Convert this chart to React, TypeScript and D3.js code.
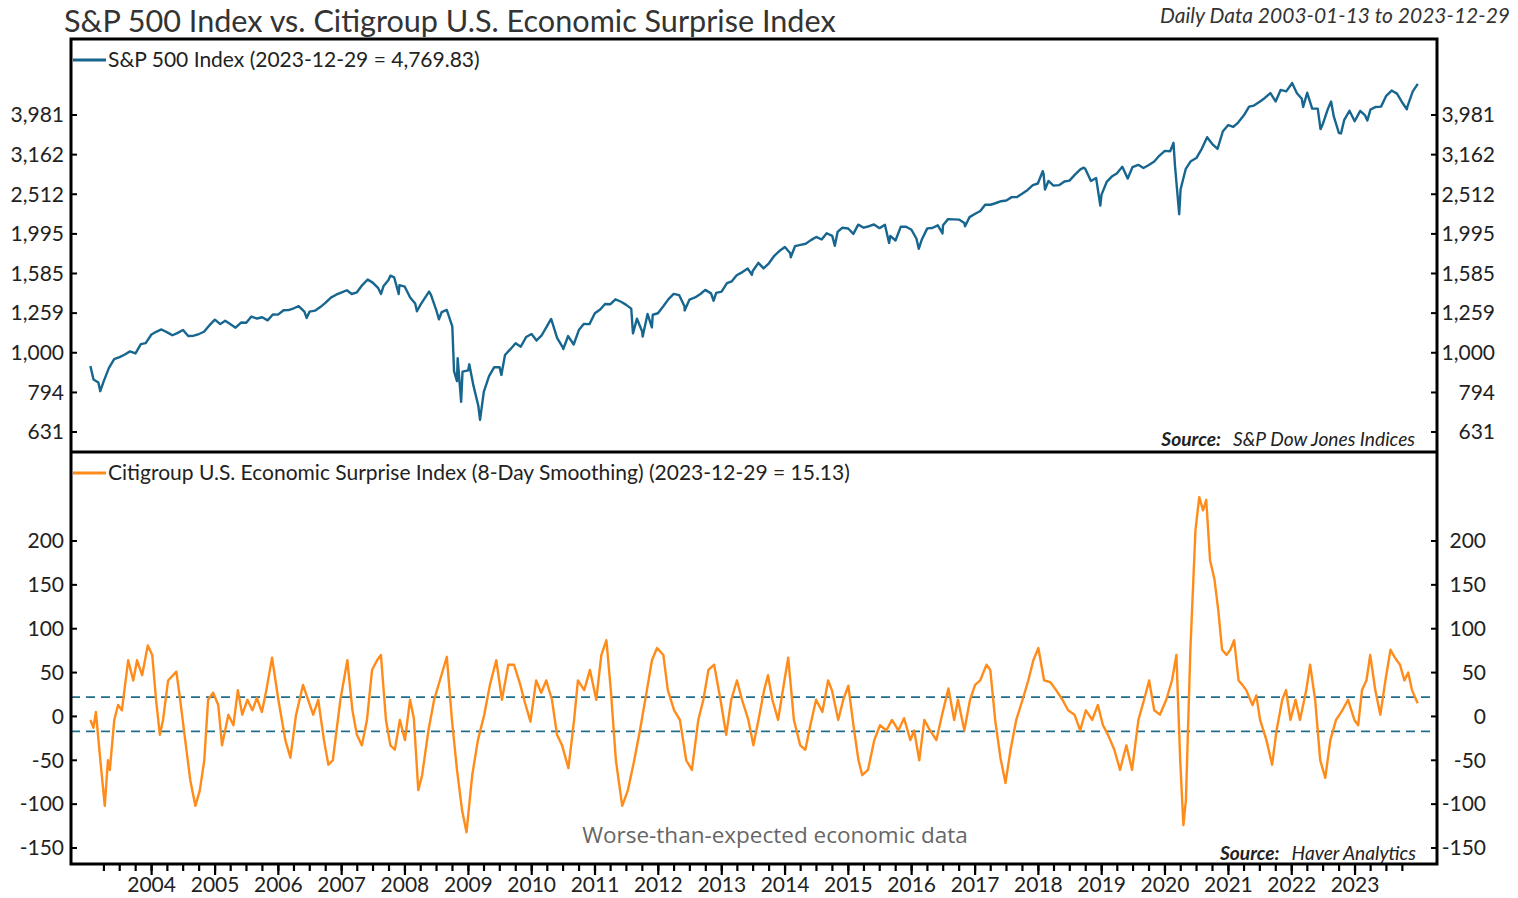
import * as d3 from 'd3';

const TITLE = 'S&P 500 Index vs. Citigroup U.S. Economic Surprise Index';
const SUBTITLE = 'Daily Data 2003-01-13 to 2023-12-29';
const SPX_LABEL = 'S&P 500 Index (2023-12-29 = 4,769.83)';
const CESI_LABEL = 'Citigroup U.S. Economic Surprise Index (8-Day Smoothing) (2023-12-29 = 15.13)';

const SPX_TICKS = [631, 794, 1000, 1259, 1585, 1995, 2512, 3162, 3981];
const CESI_TICKS = [-150, -100, -50, 0, 50, 100, 150, 200];
const CESI_BANDS = [22, -17];

// S&P 500, month-end closes plus a few notable daily extremes
const SPX: [string, number][] = [
  ['2003-01-13', 926], ['2003-01-31', 856], ['2003-02-28', 841], ['2003-03-11', 800], ['2003-03-31', 848],
  ['2003-04-30', 916], ['2003-05-30', 964], ['2003-06-30', 975], ['2003-07-31', 990], ['2003-08-29', 1008],
  ['2003-09-30', 996], ['2003-10-31', 1051], ['2003-11-28', 1058], ['2003-12-31', 1112],
  ['2004-01-30', 1131], ['2004-02-27', 1145], ['2004-03-31', 1126], ['2004-04-30', 1107], ['2004-05-28', 1121],
  ['2004-06-30', 1141], ['2004-07-30', 1102], ['2004-08-31', 1104], ['2004-09-30', 1115], ['2004-10-29', 1130],
  ['2004-11-30', 1174], ['2004-12-31', 1212],
  ['2005-01-31', 1181], ['2005-02-28', 1204], ['2005-03-31', 1180], ['2005-04-29', 1157], ['2005-05-31', 1192],
  ['2005-06-30', 1191], ['2005-07-29', 1234], ['2005-08-31', 1220], ['2005-09-30', 1229], ['2005-10-31', 1207],
  ['2005-11-30', 1249], ['2005-12-30', 1248],
  ['2006-01-31', 1280], ['2006-02-28', 1281], ['2006-03-31', 1295], ['2006-04-28', 1311], ['2006-05-31', 1270],
  ['2006-06-13', 1224], ['2006-06-30', 1270], ['2006-07-31', 1277], ['2006-08-31', 1304], ['2006-09-29', 1336],
  ['2006-10-31', 1378], ['2006-11-30', 1401], ['2006-12-29', 1418],
  ['2007-01-31', 1438], ['2007-02-28', 1407], ['2007-03-30', 1421], ['2007-04-30', 1482], ['2007-05-31', 1531],
  ['2007-06-29', 1503], ['2007-07-31', 1455], ['2007-08-16', 1407], ['2007-08-31', 1474], ['2007-09-28', 1527],
  ['2007-10-09', 1565], ['2007-10-31', 1549], ['2007-11-26', 1407], ['2007-11-30', 1481], ['2007-12-31', 1468],
  ['2008-01-31', 1378], ['2008-02-29', 1331], ['2008-03-10', 1273], ['2008-03-31', 1323], ['2008-04-30', 1386],
  ['2008-05-19', 1427], ['2008-05-30', 1400], ['2008-06-30', 1280], ['2008-07-15', 1214], ['2008-07-31', 1267],
  ['2008-08-29', 1283], ['2008-09-30', 1166], ['2008-10-10', 899], ['2008-10-27', 848], ['2008-10-31', 969],
  ['2008-11-20', 752], ['2008-11-28', 896], ['2008-12-31', 903],
  ['2009-01-06', 935], ['2009-01-30', 826], ['2009-02-27', 735], ['2009-03-09', 677], ['2009-03-31', 798],
  ['2009-04-30', 873], ['2009-05-29', 919], ['2009-06-30', 919], ['2009-07-10', 879], ['2009-07-31', 987],
  ['2009-08-31', 1021], ['2009-09-30', 1057], ['2009-10-30', 1036], ['2009-11-30', 1096], ['2009-12-31', 1115],
  ['2010-01-29', 1074], ['2010-02-26', 1104], ['2010-03-31', 1169], ['2010-04-23', 1217], ['2010-05-28', 1089],
  ['2010-06-30', 1031], ['2010-07-02', 1022], ['2010-07-30', 1102], ['2010-08-31', 1049], ['2010-09-30', 1141],
  ['2010-10-29', 1183], ['2010-11-30', 1181], ['2010-12-31', 1258],
  ['2011-01-31', 1286], ['2011-02-28', 1327], ['2011-03-31', 1326], ['2011-04-29', 1364], ['2011-05-31', 1345],
  ['2011-06-30', 1321], ['2011-07-29', 1292], ['2011-08-08', 1119], ['2011-08-31', 1219], ['2011-09-30', 1131],
  ['2011-10-03', 1099], ['2011-10-31', 1253], ['2011-11-25', 1159], ['2011-11-30', 1247], ['2011-12-30', 1258],
  ['2012-01-31', 1312], ['2012-02-29', 1366], ['2012-03-30', 1408], ['2012-04-30', 1398], ['2012-05-31', 1310],
  ['2012-06-01', 1278], ['2012-06-29', 1362], ['2012-07-31', 1379], ['2012-08-31', 1407], ['2012-09-28', 1441],
  ['2012-10-31', 1412], ['2012-11-15', 1353], ['2012-11-30', 1416], ['2012-12-31', 1426],
  ['2013-01-31', 1498], ['2013-02-28', 1515], ['2013-03-28', 1569], ['2013-04-30', 1598], ['2013-05-31', 1631],
  ['2013-06-24', 1573], ['2013-06-28', 1606], ['2013-07-31', 1686], ['2013-08-30', 1633], ['2013-09-30', 1682],
  ['2013-10-31', 1757], ['2013-11-29', 1806], ['2013-12-31', 1848],
  ['2014-01-31', 1783], ['2014-02-03', 1742], ['2014-02-28', 1859], ['2014-03-31', 1872], ['2014-04-30', 1884],
  ['2014-05-30', 1924], ['2014-06-30', 1960], ['2014-07-31', 1931], ['2014-08-29', 2003], ['2014-09-30', 1972],
  ['2014-10-15', 1862], ['2014-10-31', 2018], ['2014-11-28', 2068], ['2014-12-31', 2059],
  ['2015-01-30', 1995], ['2015-02-27', 2105], ['2015-03-31', 2068], ['2015-04-30', 2086], ['2015-05-29', 2107],
  ['2015-06-30', 2063], ['2015-07-31', 2104], ['2015-08-24', 1893], ['2015-08-31', 1972], ['2015-09-30', 1920],
  ['2015-10-30', 2079], ['2015-11-30', 2080], ['2015-12-31', 2044],
  ['2016-01-29', 1940], ['2016-02-11', 1829], ['2016-02-29', 1932], ['2016-03-31', 2060], ['2016-04-29', 2065],
  ['2016-05-31', 2097], ['2016-06-27', 2001], ['2016-06-30', 2099], ['2016-07-29', 2174], ['2016-08-31', 2171],
  ['2016-09-30', 2168], ['2016-10-31', 2126], ['2016-11-04', 2085], ['2016-11-30', 2199], ['2016-12-30', 2239],
  ['2017-01-31', 2279], ['2017-02-28', 2364], ['2017-03-31', 2363], ['2017-04-28', 2384], ['2017-05-31', 2412],
  ['2017-06-30', 2423], ['2017-07-31', 2470], ['2017-08-31', 2472], ['2017-09-29', 2519], ['2017-10-31', 2575],
  ['2017-11-30', 2648], ['2017-12-29', 2674],
  ['2018-01-26', 2873], ['2018-01-31', 2824], ['2018-02-08', 2581], ['2018-02-28', 2714], ['2018-03-29', 2641],
  ['2018-04-30', 2648], ['2018-05-31', 2705], ['2018-06-29', 2718], ['2018-07-31', 2816], ['2018-08-31', 2902],
  ['2018-09-20', 2931], ['2018-09-28', 2914], ['2018-10-31', 2712], ['2018-11-30', 2760], ['2018-12-24', 2351],
  ['2018-12-31', 2507],
  ['2019-01-31', 2704], ['2019-02-28', 2784], ['2019-03-29', 2834], ['2019-04-30', 2946], ['2019-05-31', 2752],
  ['2019-06-28', 2942], ['2019-07-31', 2980], ['2019-08-30', 2926], ['2019-09-30', 2977], ['2019-10-31', 3038],
  ['2019-11-29', 3141], ['2019-12-31', 3231],
  ['2020-01-31', 3226], ['2020-02-19', 3386], ['2020-02-28', 2954], ['2020-03-23', 2237], ['2020-03-31', 2585],
  ['2020-04-30', 2912], ['2020-05-29', 3044], ['2020-06-30', 3100], ['2020-07-31', 3271], ['2020-08-31', 3500],
  ['2020-09-30', 3363], ['2020-10-30', 3270], ['2020-11-30', 3622], ['2020-12-31', 3756],
  ['2021-01-29', 3714], ['2021-02-26', 3811], ['2021-03-31', 3973], ['2021-04-30', 4181], ['2021-05-28', 4204],
  ['2021-06-30', 4298], ['2021-07-30', 4395], ['2021-08-31', 4523], ['2021-09-30', 4308], ['2021-10-29', 4605],
  ['2021-11-30', 4567], ['2021-12-31', 4766],
  ['2022-01-03', 4797], ['2022-01-31', 4516], ['2022-02-28', 4374], ['2022-03-08', 4171], ['2022-03-31', 4530],
  ['2022-04-29', 4132], ['2022-05-31', 4132], ['2022-06-16', 3667], ['2022-06-30', 3785], ['2022-07-29', 4130],
  ['2022-08-16', 4305], ['2022-08-31', 3955], ['2022-09-30', 3586], ['2022-10-12', 3577], ['2022-10-31', 3872],
  ['2022-11-30', 4080], ['2022-12-30', 3840],
  ['2023-01-31', 4077], ['2023-02-28', 3970], ['2023-03-13', 3855], ['2023-03-31', 4109], ['2023-04-28', 4169],
  ['2023-05-31', 4180], ['2023-06-30', 4450], ['2023-07-31', 4589], ['2023-08-31', 4508], ['2023-09-29', 4288],
  ['2023-10-27', 4117], ['2023-10-31', 4194], ['2023-11-30', 4568], ['2023-12-29', 4770],
];

// Citigroup surprise index (decimal year, value)
const CESI: [number, number][] = [
  [2003.034, -4], [2003.08, -13], [2003.12, 5], [2003.19, -50], [2003.26, -102], [2003.31, -50], [2003.34, -61],
  [2003.41, -4], [2003.47, 13], [2003.53, 7], [2003.63, 64], [2003.71, 41], [2003.77, 64], [2003.85, 47],
  [2003.94, 81], [2004.01, 70], [2004.07, 19], [2004.13, -21], [2004.18, -4], [2004.26, 41], [2004.39, 51],
  [2004.45, 19], [2004.51, -16], [2004.61, -73], [2004.69, -102], [2004.76, -84], [2004.83, -50], [2004.89, 19],
  [2004.97, 27], [2005.05, 13], [2005.11, -33], [2005.21, 2], [2005.29, -10], [2005.36, 30], [2005.43, 2],
  [2005.51, 19], [2005.59, 7], [2005.66, 21], [2005.74, 5], [2005.81, 30], [2005.9, 67], [2006.0, 19],
  [2006.11, -27], [2006.19, -47], [2006.28, 2], [2006.39, 36], [2006.47, 19], [2006.55, 2], [2006.63, 19],
  [2006.72, -27], [2006.79, -55], [2006.86, -50], [2006.98, 19], [2007.09, 64], [2007.17, 7], [2007.24, -21],
  [2007.32, -33], [2007.4, -4], [2007.48, 53], [2007.56, 64], [2007.62, 70], [2007.7, -4], [2007.77, -33],
  [2007.84, -38], [2007.92, -4], [2008.0, -27], [2008.08, 19], [2008.14, -2], [2008.21, -84], [2008.27, -67],
  [2008.37, -16], [2008.46, 19], [2008.55, 41], [2008.66, 68], [2008.74, -4], [2008.82, -61], [2008.9, -107],
  [2008.97, -132], [2009.06, -67], [2009.15, -27], [2009.25, 2], [2009.34, 36], [2009.44, 64], [2009.53, 19],
  [2009.63, 59], [2009.72, 59], [2009.82, 36], [2009.88, 19], [2009.98, -6], [2010.07, 41], [2010.15, 27],
  [2010.23, 41], [2010.32, 19], [2010.4, -21], [2010.48, -33], [2010.58, -59], [2010.67, -4], [2010.73, 41],
  [2010.83, 30], [2010.92, 53], [2011.02, 19], [2011.1, 70], [2011.18, 87], [2011.25, 30], [2011.33, -50],
  [2011.43, -102], [2011.52, -84], [2011.62, -50], [2011.71, -16], [2011.82, 30], [2011.9, 64], [2011.98, 78],
  [2012.08, 70], [2012.15, 30], [2012.25, 7], [2012.34, -4], [2012.44, -50], [2012.53, -61], [2012.63, -4],
  [2012.71, 19], [2012.79, 53], [2012.88, 59], [2012.98, 19], [2013.07, -21], [2013.15, 19], [2013.24, 41],
  [2013.32, 19], [2013.42, -4], [2013.5, -33], [2013.58, -4], [2013.67, 30], [2013.73, 47], [2013.8, 19],
  [2013.89, -4], [2013.99, 41], [2014.05, 67], [2014.14, -4], [2014.24, -33], [2014.32, -38], [2014.4, -10],
  [2014.49, 19], [2014.59, 5], [2014.68, 41], [2014.74, 30], [2014.84, -4], [2014.92, 19], [2015.0, 35],
  [2015.08, -10], [2015.16, -50], [2015.22, -67], [2015.31, -61], [2015.41, -27], [2015.5, -10], [2015.6, -16],
  [2015.69, -4], [2015.79, -16], [2015.88, -2], [2015.98, -27], [2016.04, -16], [2016.12, -50], [2016.2, -4],
  [2016.29, -16], [2016.39, -27], [2016.48, 2], [2016.58, 32], [2016.67, -4], [2016.73, 19], [2016.83, -16],
  [2016.92, 19], [2017.0, 36], [2017.08, 41], [2017.18, 59], [2017.24, 53], [2017.32, -6], [2017.4, -47],
  [2017.48, -76], [2017.56, -38], [2017.65, -4], [2017.75, 19], [2017.84, 41], [2017.92, 64], [2018.0, 78],
  [2018.09, 41], [2018.19, 39], [2018.28, 30], [2018.38, 19], [2018.47, 7], [2018.57, 2], [2018.66, -16],
  [2018.75, 7], [2018.85, -4], [2018.94, 13], [2019.02, -10], [2019.1, -21], [2019.2, -38], [2019.29, -61],
  [2019.39, -33], [2019.48, -61], [2019.58, -4], [2019.67, 19], [2019.75, 41], [2019.83, 7], [2019.92, 2],
  [2020.02, 19], [2020.11, 41], [2020.18, 70], [2020.24, -50], [2020.29, -124], [2020.33, -95], [2020.4, 76],
  [2020.48, 212], [2020.54, 250], [2020.6, 235], [2020.65, 247], [2020.71, 178], [2020.78, 156], [2020.84, 121],
  [2020.9, 76], [2020.97, 70], [2021.03, 76], [2021.09, 87], [2021.16, 41], [2021.22, 36], [2021.28, 30],
  [2021.38, 13], [2021.44, 24], [2021.5, -4], [2021.6, -27], [2021.69, -55], [2021.76, -16], [2021.85, 19],
  [2021.91, 30], [2021.98, -4], [2022.06, 19], [2022.13, -4], [2022.23, 30], [2022.29, 59], [2022.37, 19],
  [2022.45, -50], [2022.53, -70], [2022.61, -27], [2022.7, -4], [2022.8, 7], [2022.89, 19], [2022.99, -4],
  [2023.05, -10], [2023.11, 30], [2023.18, 41], [2023.24, 70], [2023.32, 30], [2023.4, 2], [2023.48, 41],
  [2023.56, 76], [2023.63, 67], [2023.71, 59], [2023.78, 41], [2023.84, 50], [2023.9, 30], [2023.99, 15.13],
];

const W = 1518;
const H = 898;
const LEFT = 71;
const RIGHT = 1437;
const TOP = 39;
const MID = 452;
const BOTTOM = 864;

const BLUE = '#17668f';
const ORANGE = '#ff8c1a';
const TEXT = '#222';
const FONT = 'Lato, "Open Sans", sans-serif';

const parseDate = d3.timeParse('%Y-%m-%d');

function yearToDate(y: number) {
  const yr = Math.floor(y);
  const a = new Date(yr, 0, 1).getTime();
  const b = new Date(yr + 1, 0, 1).getTime();
  return new Date(a + (y - yr) * (b - a));
}

export default function App() {
  const start = parseDate('2003-01-13')!;
  const end = parseDate('2023-12-29')!;
  const x = d3.scaleTime().domain([start, end]).range([90.4, 1417.8]);
  const ySpx = d3.scaleLog().domain([631, 3981]).range([432, 115]);
  const yCesi = d3.scaleLinear().domain([-150, 200]).range([848, 541]);

  const spxLine = d3
    .line<[string, number]>()
    .x((d) => x(parseDate(d[0])!))
    .y((d) => ySpx(d[1]));
  const cesiLine = d3
    .line<[number, number]>()
    .x((d) => x(yearToDate(d[0])))
    .y((d) => yCesi(d[1]));

  const quarters = d3.timeMonth.every(3)!.range(start, end);
  const years = d3.timeYear.range(start, end);

  const fmt = d3.format(',');

  return (
    <svg
      width={W}
      height={H}
      style={{ position: 'absolute', left: 0, top: 0, background: '#fff' }}
      fontFamily={FONT}
    >
      <text x={64} y={32} fontSize={30.6} fill="#333">{TITLE}</text>
      <text x={1510} y={23} fontSize={21} fontStyle="italic" fill="#333" textAnchor="end">{SUBTITLE}</text>

      <defs>
        <clipPath id="clip-top">
          <rect x={LEFT} y={TOP} width={RIGHT - LEFT} height={MID - TOP} />
        </clipPath>
        <clipPath id="clip-bot">
          <rect x={LEFT} y={MID} width={RIGHT - LEFT} height={BOTTOM - MID} />
        </clipPath>
      </defs>

      {/* S&P panel */}
      <path d={spxLine(SPX) ?? ''} fill="none" stroke={BLUE} strokeWidth={2.4} strokeLinejoin="round" clipPath="url(#clip-top)" />

      {SPX_TICKS.map((t) => (
        <g key={'s' + t}>
          <line x1={LEFT} x2={LEFT + 6} y1={ySpx(t)} y2={ySpx(t)} stroke="#000" strokeWidth={2} />
          <line x1={RIGHT - 6} x2={RIGHT} y1={ySpx(t)} y2={ySpx(t)} stroke="#000" strokeWidth={2} />
          <text x={64} y={ySpx(t)} dy="0.35em" fontSize={21} fill={TEXT} textAnchor="end">{fmt(t)}</text>
          <text x={1495} y={ySpx(t)} dy="0.35em" fontSize={21} fill={TEXT} textAnchor="end">{fmt(t)}</text>
        </g>
      ))}

      <line x1={73} x2={106} y1={60} y2={60} stroke={BLUE} strokeWidth={3} />
      <text x={108} y={67} fontSize={21} fill={TEXT}>{SPX_LABEL}</text>

      <text x={1415} y={446} fontSize={19.2} fontStyle="italic" fill={TEXT} textAnchor="end">
        <tspan fontWeight="bold">Source:</tspan>
        <tspan dx={12}>S&amp;P Dow Jones Indices</tspan>
      </text>

      {/* CESI panel */}
      {CESI_BANDS.map((b) => (
        <line key={'b' + b} x1={LEFT} x2={RIGHT} y1={yCesi(b)} y2={yCesi(b)} stroke="#1f6e8c" strokeWidth={1.8} strokeDasharray="9,6" />
      ))}

      <path d={cesiLine(CESI) ?? ''} fill="none" stroke={ORANGE} strokeWidth={2.4} strokeLinejoin="round" clipPath="url(#clip-bot)" />

      {CESI_TICKS.map((t) => (
        <g key={'c' + t}>
          <line x1={LEFT} x2={LEFT + 6} y1={yCesi(t)} y2={yCesi(t)} stroke="#000" strokeWidth={2} />
          <line x1={RIGHT - 6} x2={RIGHT} y1={yCesi(t)} y2={yCesi(t)} stroke="#000" strokeWidth={2} />
          <text x={64} y={yCesi(t)} dy="0.35em" fontSize={21} fill={TEXT} textAnchor="end">{t}</text>
          <text x={1486} y={yCesi(t)} dy="0.35em" fontSize={21} fill={TEXT} textAnchor="end">{t}</text>
        </g>
      ))}

      <line x1={73} x2={106} y1={473} y2={473} stroke={ORANGE} strokeWidth={3} />
      <text x={108} y={480} fontSize={21} fill={TEXT}>{CESI_LABEL}</text>

      <text x={775} y={843} fontSize={22.5} fill="#666" textAnchor="middle" fontFamily='"Open Sans", sans-serif'>
        Worse-than-expected economic data
      </text>

      <text x={1416} y={860} fontSize={19.2} fontStyle="italic" fill={TEXT} textAnchor="end">
        <tspan fontWeight="bold">Source:</tspan>
        <tspan dx={12}>Haver Analytics</tspan>
      </text>

      {/* frames */}
      <rect x={LEFT} y={TOP} width={RIGHT - LEFT} height={BOTTOM - TOP} fill="none" stroke="#000" strokeWidth={3} />
      <line x1={LEFT} x2={RIGHT} y1={MID} y2={MID} stroke="#000" strokeWidth={3} />

      {/* x axis */}
      {quarters.map((q) => (
        <line key={+q} x1={x(q)} x2={x(q)} y1={BOTTOM} y2={BOTTOM + 7} stroke="#000" strokeWidth={2.2} />
      ))}
      {years.map((yv) => (
        <g key={'y' + +yv}>
          <line x1={x(yv)} x2={x(yv)} y1={BOTTOM} y2={BOTTOM + 11} stroke="#000" strokeWidth={2.2} />
          <text x={x(yv)} y={892} fontSize={21} fill={TEXT} textAnchor="middle">{yv.getFullYear()}</text>
        </g>
      ))}
    </svg>
  );
}
